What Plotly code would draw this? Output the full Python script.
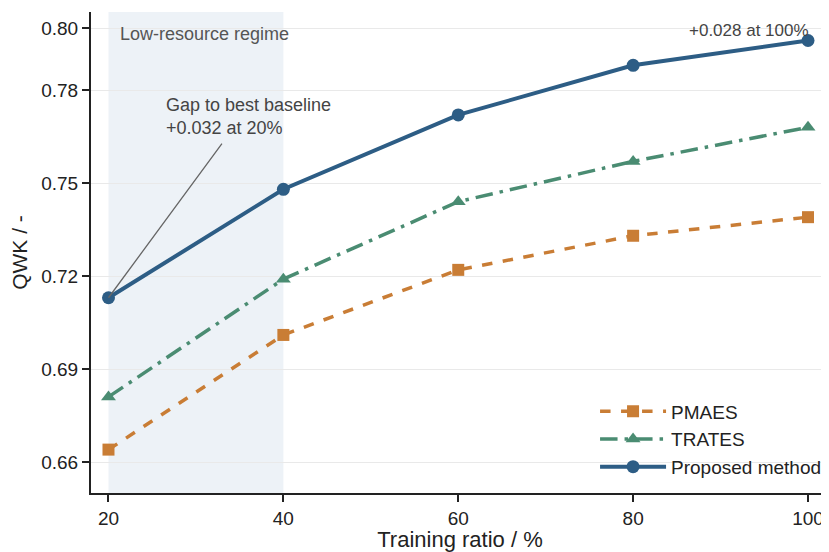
import plotly.graph_objects as go

ratios = [20, 40, 60, 80, 100]
pmaes = [0.664, 0.701, 0.722, 0.733, 0.739]
trates = [0.681, 0.719, 0.744, 0.757, 0.768]
proposed = [0.713, 0.748, 0.772, 0.788, 0.796]
y_ticks = [0.66, 0.69, 0.72, 0.75, 0.78, 0.80]
y_tick_labels = ["0.66", "0.69", "0.72", "0.75", "0.78", "0.80"]
x_ticks = [20, 40, 60, 80, 100]

FONT = "Liberation Sans, Arial, sans-serif"
C_P = "#c97d35"
C_T = "#4a8c72"
C_M = "#2d5d85"

fig = go.Figure()
fig.add_vrect(x0=20, x1=40, fillcolor="#edf2f7", line_width=0, layer="below")

fig.add_trace(go.Scatter(x=ratios, y=pmaes, name="PMAES", mode="lines+markers",
                         line=dict(color=C_P, width=3.5, dash="dash"),
                         marker=dict(symbol="square", size=12, color=C_P)))
fig.add_trace(go.Scatter(x=ratios, y=trates, name="TRATES", mode="lines+markers",
                         line=dict(color=C_T, width=3.5, dash="longdashdot"),
                         marker=dict(symbol="triangle-up", size=13, color=C_T)))
fig.add_trace(go.Scatter(x=ratios, y=proposed, name="Proposed method", mode="lines+markers",
                         line=dict(color=C_M, width=4),
                         marker=dict(symbol="circle", size=13, color=C_M)))

fig.add_annotation(x=21.1, y=0.7982, xref="x", yref="y", text="Low-resource regime",
                   showarrow=False, xanchor="left", yanchor="middle",
                   font=dict(family=FONT, size=18, color="#555555"))
fig.add_annotation(x=ratios[0], y=proposed[0], ax=33.1, ay=0.7632, axref="x", ayref="y",
                   text="", showarrow=True, arrowhead=0, arrowwidth=1.3, arrowcolor="#666666")
fig.add_annotation(x=26.4, y=0.7638, xref="x", yref="y",
                   text="Gap to best baseline<br>+0.032 at 20%", showarrow=False,
                   xanchor="left", yanchor="bottom", align="left",
                   font=dict(family=FONT, size=18, color="#444444"))
fig.add_annotation(x=100.3, y=0.7993, xref="x", yref="y", text="+0.028 at 100%",
                   showarrow=False, xanchor="right", yanchor="middle",
                   font=dict(family=FONT, size=17, color="#444444"))

axis_common = dict(showline=True, linecolor="#222222", linewidth=2, ticks="outside",
                   ticklen=7, tickwidth=1.5, tickcolor="#222222",
                   tickfont=dict(family=FONT, size=19, color="#222222"), zeroline=False,
                   mirror=False, automargin=False)
fig.update_xaxes(range=[18, 102.4], tickvals=x_ticks, showgrid=False,
                 title=dict(text="Training ratio / %", font=dict(family=FONT, size=22, color="#222222"),
                            standoff=17), **axis_common)
fig.update_yaxes(range=[0.65, 0.8052], tickvals=y_ticks, ticktext=y_tick_labels,
                 showgrid=True, gridcolor="#e9e9e9", gridwidth=1,
                 title=dict(text="QWK / -", font=dict(family=FONT, size=21, color="#222222"),
                            standoff=9), **axis_common)

fig.update_layout(width=821, height=544, margin=dict(l=83, r=0, t=4, b=59),
                  plot_bgcolor="white", paper_bgcolor="white",
                  font=dict(family=FONT, color="#222222"),
                  legend=dict(x=0.683, y=0.209, xanchor="left", yanchor="top",
                              bgcolor="rgba(0,0,0,0)", itemwidth=66,
                              font=dict(family=FONT, size=19, color="#222222"),
                              tracegroupgap=0))

fig.write_html("out.html")
